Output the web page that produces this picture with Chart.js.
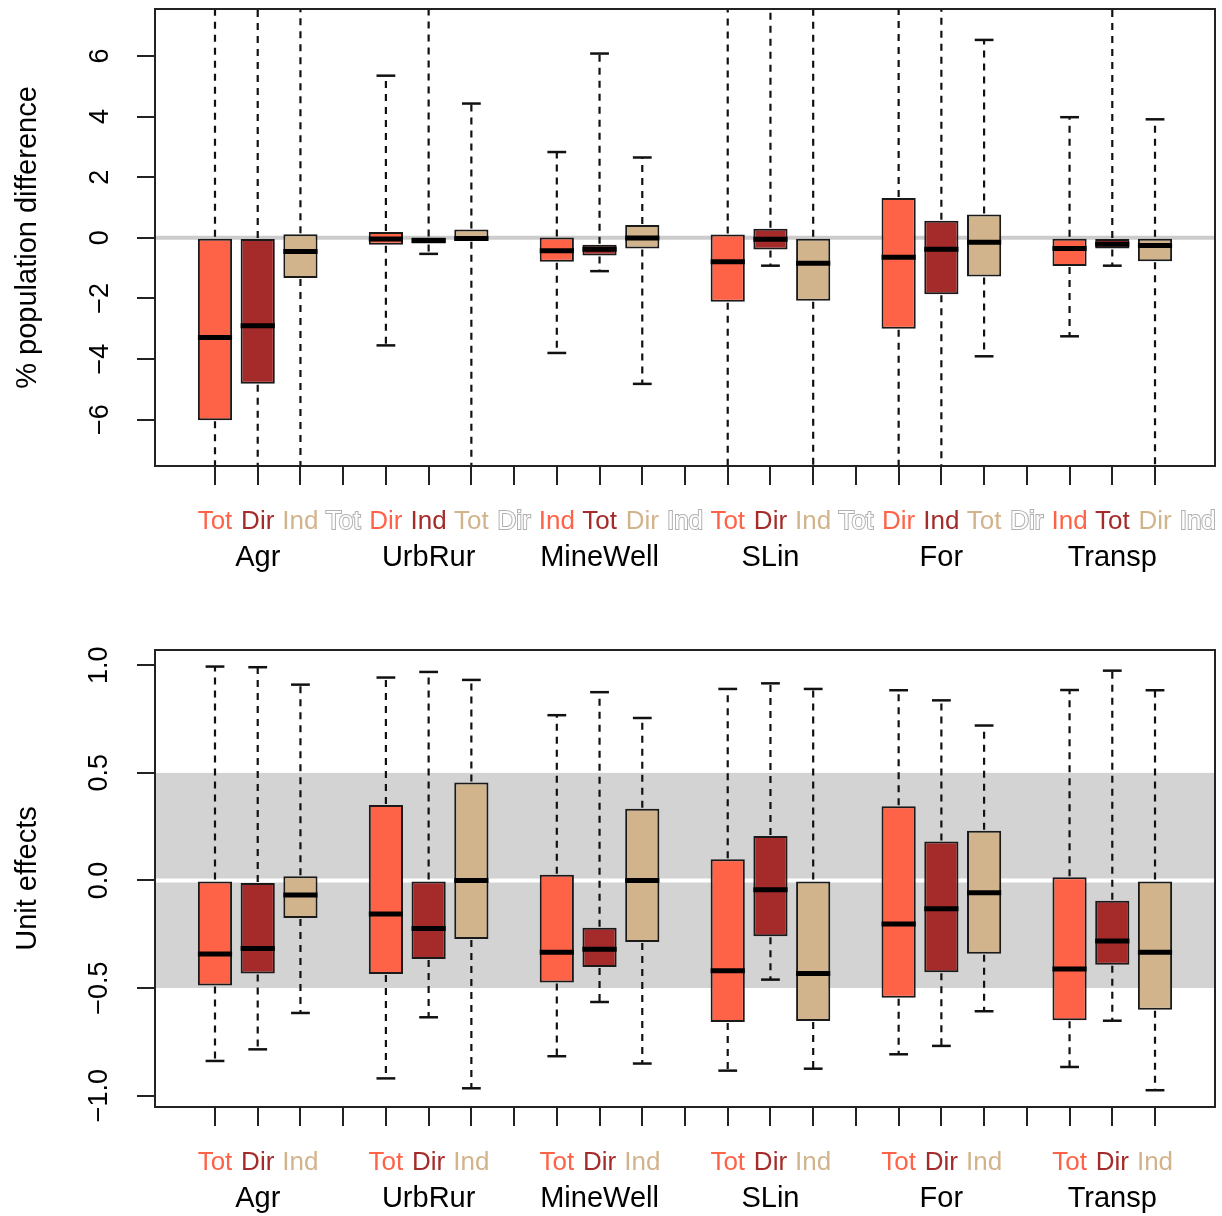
<!DOCTYPE html>
<html>
<head>
<meta charset="utf-8">
<script src="https://cdn.jsdelivr.net/npm/chart.js@4.4.1/dist/chart.umd.min.js"></script>
<style>
  html, body { margin: 0; padding: 0; background: #fff; overflow: hidden; }
  .panel { position: absolute; left: 0; width: 1222px; height: 575px; }
  #pop-wrap { top: 0; }
  #unit-wrap { top: 641px; }
</style>
</head>
<body>
<div class="panel" id="pop-wrap"><canvas id="pop-chart" width="1222" height="575"></canvas></div>
<div class="panel" id="unit-wrap"><canvas id="unit-chart" width="1222" height="575"></canvas></div>
<script>
const groups = ['Agr', 'UrbRur', 'MineWell', 'SLin', 'For', 'Transp'];
const effects = ['Tot', 'Dir', 'Ind'];

// % population difference (Tot, Dir, Ind per group); +-8 = whisker runs off the plot
const popLow  = [-8, -8, -8,   -3.55, -0.53, -8,   -3.80, -1.10, -4.82,   -8, -0.92, -8,   -8, -8, -3.91,   -3.25, -0.92, -8];
const popQ1   = [-6.02, -4.82, -1.33,   -0.23, -0.19, -0.10,   -0.79, -0.58, -0.35,   -2.11, -0.39, -2.08,   -3.00, -1.86, -1.28,   -0.93, -0.35, -0.77];
const popMed  = [-3.29, -2.90, -0.45,   -0.04, -0.09, -0.02,   -0.43, -0.38, -0.01,   -0.79, -0.05, -0.84,   -0.64, -0.38, -0.15,   -0.35, -0.21, -0.25];
const popQ3   = [0.00, -0.04, 0.12,   0.19, 0.01, 0.27,   0.01, -0.23, 0.42,   0.11, 0.30, 0.00,   1.31, 0.56, 0.77,   0.00, -0.04, 0.00];
const popHigh = [8, 8, 8,   5.35, 8, 4.43,   2.83, 6.08, 2.65,   8, 8, 8,   8, 8, 6.53,   3.98, 8, 3.91];
const popTicks = [-6, -4, -2, 0, 2, 4, 6];

// unit effects
const unitLow  = [-0.839, -0.785, -0.616,   -0.920, -0.636, -0.966,   -0.817, -0.565, -0.851,   -0.884, -0.461, -0.875,   -0.808, -0.769, -0.608,   -0.867, -0.652, -0.975];
const unitQ1   = [-0.488, -0.433, -0.175,   -0.435, -0.365, -0.272,   -0.474, -0.402, -0.286,   -0.658, -0.259, -0.653,   -0.545, -0.427, -0.341,   -0.650, -0.392, -0.601];
const unitMed  = [-0.342, -0.316, -0.068,   -0.156, -0.223, 0.000,   -0.334, -0.320, 0.000,   -0.420, -0.043, -0.433,   -0.203, -0.132, -0.057,   -0.412, -0.282, -0.334];
const unitQ3   = [0.000, -0.012, 0.019,   0.351, 0.000, 0.455,   0.026, -0.220, 0.333,   0.098, 0.207, 0.000,   0.345, 0.181, 0.231,   0.015, -0.094, 0.000];
const unitHigh = [0.994, 0.991, 0.910,   0.943, 0.969, 0.932,   0.768, 0.875, 0.755,   0.890, 0.916, 0.890,   0.884, 0.837, 0.720,   0.885, 0.975, 0.884];
const unitTicks = [-1, -0.5, 0, 0.5, 1];

const boxColors = ['#FF6347', '#A52A2A', '#D2B48C'];
const labelColors = ['#FF6347', '#A52A2A', '#D2B48C', '#FFFFFF'];
const FONT = "'Liberation Sans', Arial, Helvetica, sans-serif";

const boxStatsPlugin = {
    id: 'boxStats',
    beforeDatasetsDraw(chart, args, opts) {
        const { ctx, chartArea: a, scales: { y } } = chart;
        ctx.save();
        if (opts.band) {
            const top = y.getPixelForValue(opts.band[1]);
            const bottom = y.getPixelForValue(opts.band[0]);
            ctx.fillStyle = '#D3D3D3';
            ctx.fillRect(a.left, top, a.width, bottom - top);
        }
        const y0 = y.getPixelForValue(0);
        ctx.strokeStyle = opts.zeroColor;
        ctx.lineWidth = 4;
        ctx.beginPath();
        ctx.moveTo(a.left, y0);
        ctx.lineTo(a.right, y0);
        ctx.stroke();
        ctx.restore();
    },
    afterDatasetsDraw(chart, args, opts) {
        const { ctx, chartArea: a, scales: { x, y } } = chart;
        const capHalf = (x.getPixelForValue(1) - x.getPixelForValue(0)) * 0.22;
        const line = (x1, y1, x2, y2) => {
            ctx.beginPath();
            ctx.moveTo(x1, y1);
            ctx.lineTo(x2, y2);
            ctx.stroke();
        };
        ctx.save();
        ctx.beginPath();
        ctx.rect(a.left, a.top, a.width, a.height);
        ctx.clip();
        chart.getDatasetMeta(0).data.forEach((bar, i) => {
            const cx = bar.x;
            const half = bar.width / 2;
            const yLow = y.getPixelForValue(opts.low[i]);
            const yQ1 = y.getPixelForValue(opts.q1[i]);
            const yMed = y.getPixelForValue(opts.med[i]);
            const yQ3 = y.getPixelForValue(opts.q3[i]);
            const yHigh = y.getPixelForValue(opts.high[i]);

            ctx.strokeStyle = '#111';
            ctx.lineWidth = 2.2;
            ctx.setLineDash([7, 6]);
            line(cx, yQ3 - 1, cx, yHigh);
            line(cx, yQ1 + 1, cx, yLow);

            ctx.setLineDash([]);
            ctx.lineWidth = 2.5;
            line(cx - capHalf, yHigh, cx + capHalf, yHigh);
            line(cx - capHalf, yLow, cx + capHalf, yLow);

            ctx.strokeStyle = '#000';
            ctx.lineWidth = 5;
            line(cx - half, yMed, cx + half, yMed);
        });
        ctx.restore();

        ctx.save();
        ctx.strokeStyle = '#222';
        ctx.lineWidth = 2;
        ctx.strokeRect(a.left, a.top, a.width, a.height);
        ctx.restore();
    }
};

function makeChart(canvasId, cfg) {
    const boxes = [];
    groups.forEach((g, gi) => effects.forEach((e, ei) => {
        const i = gi * 3 + ei;
        boxes.push({ x: gi * 4 + ei + 1, y: [cfg.q1[i], cfg.q3[i]] });
    }));
    const nSlots = groups.length * 4 - 1;
    const slotTicks = Array.from({ length: cfg.labelSlots }, (_, k) => k + 1);

    return new Chart(document.getElementById(canvasId), {
        type: 'bar',
        data: {
            datasets: [{
                data: boxes,
                backgroundColor: boxes.map((b, i) => boxColors[i % 3]),
                borderColor: '#1a1a1a',
                borderWidth: 2,
                borderSkipped: false,
                barPercentage: 0.8,
                categoryPercentage: 1
            }]
        },
        options: {
            responsive: false,
            animation: false,
            events: [],
            layout: { padding: { top: 9, right: 7, left: 0, bottom: 0 } },
            plugins: {
                legend: { display: false },
                tooltip: { enabled: false },
                boxStats: cfg
            },
            scales: {
                x: {
                    type: 'linear',
                    position: 'bottom',
                    weight: 0,
                    offset: false,
                    min: -0.404,
                    max: 24.404,
                    afterBuildTicks: s => { s.ticks = slotTicks.map(v => ({ value: v })); },
                    afterFit: s => { s.height = 72; s.paddingLeft = 0; s.paddingRight = 0; },
                    border: { display: false },
                    grid: {
                        offset: false,
                        drawOnChartArea: false,
                        drawTicks: true,
                        tickLength: 19,
                        lineWidth: 2,
                        color: '#222',
                        tickColor: c => (c.tick && c.tick.value > nSlots) ? 'rgba(0,0,0,0)' : '#222'
                    },
                    ticks: {
                        autoSkip: false,
                        maxRotation: 0,
                        minRotation: 0,
                        padding: 21,
                        font: { family: FONT, size: 26 },
                        callback: v => cfg.labelText(v),
                        color: c => cfg.labelColor(c.tick.value),
                        textStrokeColor: c => cfg.labelColor(c.tick.value) === '#FFFFFF' ? '#b0b0b0' : 'rgba(0,0,0,0)',
                        textStrokeWidth: c => cfg.labelColor(c.tick.value) === '#FFFFFF' ? 2 : 0
                    }
                },
                groupAxis: {
                    type: 'linear',
                    axis: 'x',
                    position: 'bottom',
                    weight: 1,
                    offset: false,
                    min: -0.404,
                    max: 24.404,
                    afterBuildTicks: s => { s.ticks = groups.map((g, gi) => ({ value: gi * 4 + 2 })); },
                    afterFit: s => { s.height = 37; s.paddingLeft = 0; s.paddingRight = 0; },
                    border: { display: false },
                    grid: { display: false, drawTicks: false, offset: false },
                    ticks: {
                        autoSkip: false,
                        maxRotation: 0,
                        padding: 3,
                        color: '#000',
                        font: { family: FONT, size: 29 },
                        callback: v => groups[(v - 2) / 4]
                    }
                },
                y: {
                    type: 'linear',
                    min: cfg.yMin,
                    max: cfg.yMax,
                    afterBuildTicks: s => { s.ticks = cfg.ticks.map(v => ({ value: v })); },
                    afterFit: s => { s.width = 155; s.paddingTop = 0; s.paddingBottom = 0; },
                    border: { display: false },
                    grid: {
                        drawOnChartArea: false,
                        drawTicks: true,
                        tickLength: 18,
                        lineWidth: 2,
                        color: '#222'
                    },
                    ticks: {
                        autoSkip: false,
                        minRotation: 90,
                        maxRotation: 90,
                        crossAlign: 'center',
                        padding: cfg.tickPad,
                        color: '#000',
                        font: { family: FONT, size: 27 },
                        callback: v => cfg.tickText(v)
                    },
                    title: {
                        display: true,
                        text: cfg.title,
                        color: '#000',
                        font: { family: FONT, size: 29 },
                        padding: { top: 11, bottom: 0 }
                    }
                }
            }
        },
        plugins: [boxStatsPlugin]
    });
}

const minus = s => s.replace('-', '\u2212');

makeChart('pop-chart', {
    low: popLow, q1: popQ1, med: popMed, q3: popQ3, high: popHigh,
    ticks: popTicks,
    yMin: -7.53, yMax: 7.55,
    title: '% population difference',
    tickPad: 21,
    tickText: v => minus(String(v)),
    zeroColor: '#CCCCCC',
    band: null,
    labelSlots: 24,
    labelText: v => effects[(v - 1) % 3],
    labelColor: v => labelColors[(v - 1) % 4]
});

makeChart('unit-chart', {
    low: unitLow, q1: unitQ1, med: unitMed, q3: unitQ3, high: unitHigh,
    ticks: unitTicks,
    yMin: -1.053, yMax: 1.071,
    title: 'Unit effects',
    tickPad: 11,
    tickText: v => minus(v.toFixed(1)),
    zeroColor: '#FFFFFF',
    band: [-0.5, 0.5],
    labelSlots: 23,
    labelText: v => (v % 4 === 0 ? '' : effects[(v - 1) % 4]),
    labelColor: v => (v % 4 === 0 ? '#FFFFFF' : boxColors[(v - 1) % 4])
});
</script>
</body>
</html>
